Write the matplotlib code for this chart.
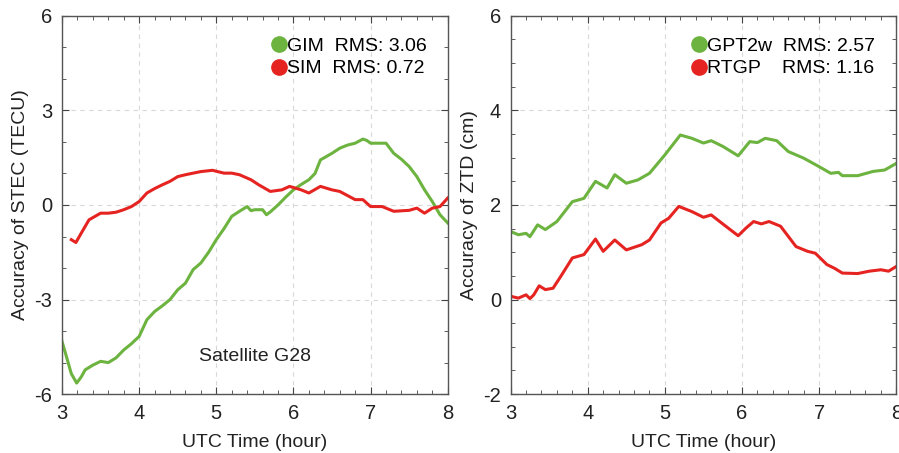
import numpy as np
import matplotlib
matplotlib.use("Agg")
import matplotlib.pyplot as plt
from matplotlib.lines import Line2D
from matplotlib.ticker import MultipleLocator

plt.rcParams['font.family'] = ['Liberation Sans', 'DejaVu Sans']
plt.rcParams['axes.unicode_minus'] = False

GREEN = '#6cb33f'
RED = '#e52421'

# STEC accuracy (TECU) for satellite G28
gim_t = [3.00, 3.05, 3.12, 3.19, 3.25, 3.30, 3.40, 3.50, 3.60, 3.70, 3.80, 3.90,
         4.00, 4.10, 4.20, 4.30, 4.40, 4.50, 4.60, 4.70, 4.80, 4.90, 5.00, 5.10,
         5.20, 5.30, 5.40, 5.45, 5.50, 5.60, 5.65, 5.70, 5.80, 5.90, 6.00, 6.10,
         6.20, 6.28, 6.35, 6.50, 6.60, 6.70, 6.80, 6.90, 6.95, 7.00, 7.10, 7.20,
         7.30, 7.40, 7.50, 7.60, 7.70, 7.80, 7.90, 8.00]
gim_v = [-4.33, -4.75, -5.35, -5.65, -5.45, -5.23, -5.08, -4.96, -5.00, -4.85, -4.60, -4.40,
         -4.17, -3.64, -3.38, -3.20, -3.00, -2.69, -2.48, -2.05, -1.84, -1.50, -1.10, -0.75,
         -0.36, -0.20, -0.05, -0.18, -0.15, -0.15, -0.31, -0.22, 0.00, 0.25, 0.48, 0.65,
         0.80, 1.00, 1.43, 1.64, 1.80, 1.90, 1.96, 2.09, 2.05, 1.96, 1.96, 1.96,
         1.64, 1.45, 1.22, 0.90, 0.48, 0.11, -0.31, -0.57]
sim_t = [3.12, 3.18, 3.25, 3.35, 3.50, 3.60, 3.70, 3.80, 3.90, 4.00, 4.10, 4.20,
         4.30, 4.40, 4.50, 4.60, 4.70, 4.80, 4.95, 5.10, 5.20, 5.30, 5.45, 5.55,
         5.70, 5.85, 5.95, 6.10, 6.20, 6.35, 6.50, 6.60, 6.80, 6.90, 7.00, 7.15,
         7.30, 7.50, 7.60, 7.70, 7.80, 7.90, 8.00]
sim_v = [-1.10, -1.19, -0.89, -0.47, -0.26, -0.26, -0.23, -0.15, -0.05, 0.11, 0.38, 0.52,
         0.64, 0.75, 0.90, 0.96, 1.01, 1.06, 1.10, 1.01, 1.01, 0.96, 0.80, 0.64,
         0.43, 0.48, 0.59, 0.48, 0.38, 0.59, 0.48, 0.43, 0.17, 0.17, -0.05, -0.05,
         -0.20, -0.17, -0.10, -0.26, -0.10, -0.05, 0.22]

# ZTD accuracy (cm)
gpt_t = [3.00, 3.10, 3.20, 3.25, 3.35, 3.45, 3.60, 3.70, 3.80, 3.95, 4.10, 4.25,
         4.35, 4.50, 4.65, 4.80, 5.00, 5.20, 5.35, 5.50, 5.60, 5.75, 5.95, 6.10,
         6.20, 6.30, 6.45, 6.60, 6.80, 7.00, 7.15, 7.25, 7.30, 7.50, 7.70, 7.85, 8.00]
gpt_v = [1.44, 1.37, 1.40, 1.33, 1.58, 1.48, 1.65, 1.86, 2.07, 2.14, 2.50, 2.36,
         2.64, 2.46, 2.53, 2.67, 3.06, 3.48, 3.41, 3.31, 3.36, 3.24, 3.04, 3.34,
         3.32, 3.41, 3.36, 3.13, 2.99, 2.81, 2.67, 2.69, 2.62, 2.62, 2.71, 2.74, 2.88]
rtgp_t = [3.00, 3.10, 3.20, 3.25, 3.30, 3.37, 3.45, 3.55, 3.65, 3.80, 3.95, 4.10,
          4.20, 4.35, 4.50, 4.70, 4.80, 4.95, 5.05, 5.18, 5.35, 5.50, 5.60, 5.75,
          5.95, 6.05, 6.15, 6.25, 6.35, 6.50, 6.70, 6.85, 6.95, 7.10, 7.20, 7.30,
          7.50, 7.65, 7.80, 7.90, 8.00]
rtgp_v = [0.07, 0.03, 0.10, 0.02, 0.10, 0.29, 0.21, 0.24, 0.49, 0.88, 0.95, 1.28,
          1.02, 1.26, 1.05, 1.16, 1.26, 1.62, 1.72, 1.97, 1.86, 1.74, 1.79, 1.60,
          1.35, 1.51, 1.65, 1.60, 1.65, 1.55, 1.12, 1.02, 0.98, 0.74, 0.66, 0.56,
          0.55, 0.60, 0.63, 0.60, 0.70]

left_labels = ['GIM  RMS: 3.06', 'SIM  RMS: 0.72']
right_labels = ['GPT2w  RMS: 2.57', 'RTGP    RMS: 1.16']

TXT = '#222222'


def style_axes(ax, ylim, yticks, yminor):
    ax.set_xlim(3, 8)
    ax.set_ylim(*ylim)
    ax.set_xticks([3, 4, 5, 6, 7, 8])
    ax.set_yticks(yticks)
    ax.xaxis.set_minor_locator(MultipleLocator(0.2))
    ax.yaxis.set_minor_locator(MultipleLocator(yminor))
    ax.tick_params(which='both', direction='in', top=True, right=True,
                   color='#444444', labelsize=14.5, labelcolor=TXT)
    ax.tick_params(which='major', length=5, pad=7)
    ax.tick_params(which='minor', length=3)
    ax.grid(True, which='major', linestyle=(0, (4, 4)), color='#d8d8d8', linewidth=0.8)
    for s in ax.spines.values():
        s.set_color('#555555')
        s.set_linewidth(1.0)
    ax.set_xlabel('UTC Time (hour)', fontsize=14, color=TXT, labelpad=8)


def add_legend(ax, labels):
    handles = [Line2D([], [], linestyle='none', marker='o', markersize=11,
                      color=c) for c in (GREEN, RED)]
    ax.legend(handles, labels, loc='upper right', frameon=False, fontsize=14,
              handletextpad=-0.1, handlelength=1.0, labelspacing=0.25,
              borderaxespad=0.7)


fig = plt.figure(figsize=(8.99, 4.53), dpi=100)
ax1 = fig.add_axes([0.069, 0.130, 0.429, 0.835])
ax2 = fig.add_axes([0.568, 0.130, 0.429, 0.835])

ax1.plot(gim_t, gim_v, color=GREEN, lw=2.2)
ax1.plot(sim_t, sim_v, color=RED, lw=2.2)
style_axes(ax1, (-6, 6), [-6, -3, 0, 3, 6], 1)
ax1.set_ylabel('Accuracy of STEC (TECU)', fontsize=14, color=TXT, labelpad=4)
ax1.text(5.5, -4.8, 'Satellite G28', fontsize=14, color=TXT,
         ha='center', va='center')
add_legend(ax1, left_labels)

ax2.plot(gpt_t, gpt_v, color=GREEN, lw=2.2)
ax2.plot(rtgp_t, rtgp_v, color=RED, lw=2.2)
style_axes(ax2, (-2, 6), [-2, 0, 2, 4, 6], 0.5)
ax2.set_ylabel('Accuracy of ZTD (cm)', fontsize=14, color=TXT, labelpad=4)
add_legend(ax2, right_labels)

fig.savefig('out.png', dpi=100)
